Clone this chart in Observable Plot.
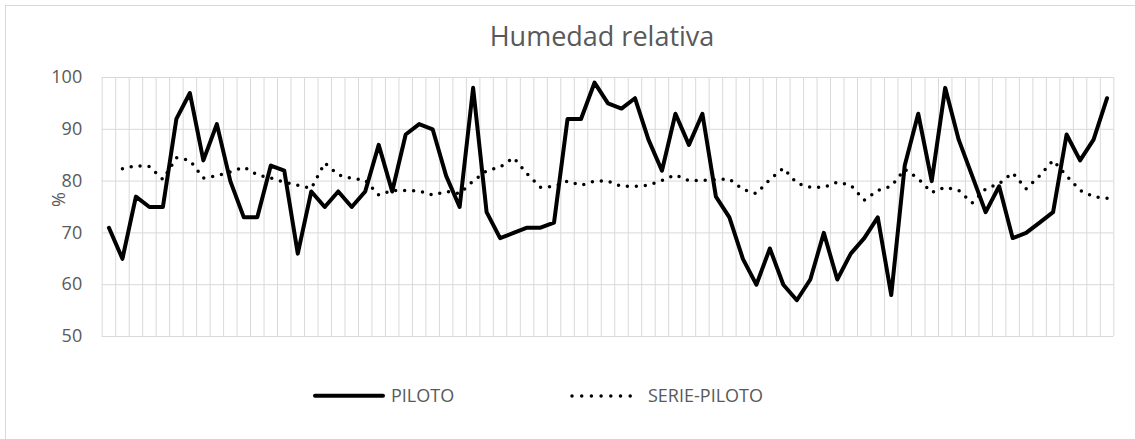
<!DOCTYPE html>
<html><head><meta charset="utf-8">
<script src="https://cdn.jsdelivr.net/npm/d3@7"></script>
<script src="https://cdn.jsdelivr.net/npm/@observablehq/plot@0.6"></script>
<style>
body{margin:0;background:#fff;}
#chart{position:relative;width:1135px;height:439px;overflow:hidden;background:#fff;font-family:"Open Sans",sans-serif;color:#595959;}
#frame{position:absolute;left:5px;top:5px;width:1200px;height:500px;border:1px solid #d9d9d9;box-sizing:border-box;}
#title{position:absolute;left:0;top:22px;width:1204px;text-align:center;font-size:27px;line-height:27px;}
#plot{position:absolute;left:0;top:60px;}
#lgsvg{position:absolute;left:0;top:380px;}
.lg{position:absolute;top:386px;font-size:18px;line-height:18px;white-space:nowrap;}
</style></head>
<body>
<div id="chart">
  <div id="frame"></div>
  <div id="title">Humedad relativa</div>
  <div id="plot"></div>
</div>
<script>
const titulo = "Humedad relativa";
const seriesNames = ["PILOTO", "SERIE-PILOTO"];
const dias = [1,2,3,4,5,6,7,8,9,10,11,12,13,14,15,16,17,18,19,20,21,22,23,24,25,26,27,28,29,30,31,32,33,34,35,36,37,38,39,40,41,42,43,44,45,46,47,48,49,50,51,52,53,54,55,56,57,58,59,60,61,62,63,64,65,66,67,68,69,70,71,72,73,74,75];
const piloto = [71,65,77,75,75,92,97,84,91,80,73,73,83,82,66,78,75,78,75,78,87,78,89,91,90,81,75,98,74,69,70,71,71,72,92,92,99,95,94,96,88,82,93,87,93,77,73,65,60,67,60,57,61,70,61,66,69,73,58,83,93,80,98,88,81,74,79,69,70,72,74,89,84,88,96];
const seriePiloto = [null,82.4,83,82.8,80.3,84.5,84,80.6,81,81.8,82.7,81.2,80.6,79.8,79.2,78.6,83.5,81.2,80.5,80.2,77.3,78.2,78.2,78.1,77.3,78,77.6,80,82,82.7,84.5,81.4,78.8,79,80,79.2,80,80,79,79,79.2,80.1,81.2,80.1,80.1,80.3,80.4,78.4,77.6,80.3,82.5,79.6,78.8,78.8,79.8,79.2,76.3,78.2,79,82.3,80.5,77.8,78.8,78.2,75.8,78.5,79.5,81.6,78.5,81,84,81,78.2,77,76.7];
const yTicks = [50,60,70,80,90,100];
const yLabel = "%";

document.getElementById("title").textContent = titulo;

const rows = dias.map((d, i) => ({dia: d, piloto: piloto[i], serie: seriePiloto[i]}));
const bounds = [dias[0] - 0.5, ...dias.map(d => d + 0.5)];

const chart = Plot.plot({
  width: 1135,
  height: 300,
  marginLeft: 101.7,
  marginRight: 21.7,
  marginTop: 17,
  marginBottom: 24,
  x: {domain: [dias[0] - 0.5, dias[dias.length - 1] + 0.5], axis: null},
  y: {domain: [yTicks[0], yTicks[yTicks.length - 1]], axis: null},
  style: {fontFamily: "Open Sans, sans-serif", fontSize: "18px", color: "#595959", background: "transparent", overflow: "visible"},
  marks: [
    Plot.gridY(yTicks, {stroke: "#d9d9d9", strokeOpacity: 1, strokeWidth: 1}),
    Plot.ruleX(bounds, {stroke: "#d9d9d9", strokeOpacity: 1, strokeWidth: 1}),
    Plot.axisY(yTicks, {tickSize: 0, tickPadding: 20, label: null, fontSize: 18}),
    Plot.text([yLabel], {text: d => d, frameAnchor: "left", dx: -43, rotate: -90, fontSize: 18, fill: "#595959"}),
    Plot.line(rows, {x: "dia", y: "serie", stroke: "black", strokeWidth: 3.5, strokeDasharray: "0 9", strokeLinecap: "round", strokeLinejoin: "round"}),
    Plot.line(rows, {x: "dia", y: "piloto", stroke: "black", strokeWidth: 4, strokeLinecap: "round", strokeLinejoin: "round"})
  ]
});
document.getElementById("plot").appendChild(chart);

// legend
const c = document.getElementById("chart");
const ns = "http://www.w3.org/2000/svg";
const lg = document.createElementNS(ns, "svg");
lg.setAttribute("id", "lgsvg");
lg.setAttribute("width", 1135);
lg.setAttribute("height", 32);
const l1 = document.createElementNS(ns, "line");
Object.entries({x1: 315, x2: 383, y1: 15.7, y2: 15.7, stroke: "black", "stroke-width": 4, "stroke-linecap": "round"}).forEach(([k, v]) => l1.setAttribute(k, v));
const l2 = document.createElementNS(ns, "line");
Object.entries({x1: 572, x2: 630.5, y1: 16, y2: 16, stroke: "black", "stroke-width": 3.5, "stroke-linecap": "round", "stroke-dasharray": "0 9.7"}).forEach(([k, v]) => l2.setAttribute(k, v));
lg.appendChild(l1); lg.appendChild(l2);
c.appendChild(lg);
[[seriesNames[0], 391], [seriesNames[1], 648]].forEach(([t, x]) => {
  const s = document.createElement("span");
  s.className = "lg";
  s.style.left = x + "px";
  s.textContent = t;
  c.appendChild(s);
});
</script>
</body></html>
